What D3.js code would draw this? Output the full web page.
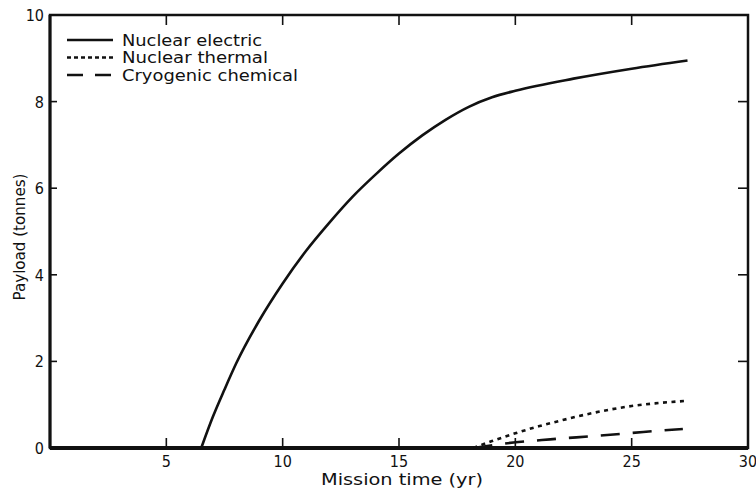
<!DOCTYPE html>
<html>
<head>
<meta charset="utf-8">
<script src="https://cdn.jsdelivr.net/npm/d3@7"></script>
<style>
  html, body { margin: 0; padding: 0; background: #fff; }
  svg text { font-family: "DejaVu Sans Condensed", "DejaVu Sans", sans-serif; fill: #111; }
  svg text.wide { font-family: "DejaVu Sans", sans-serif; }
</style>
</head>
<body>
<svg id="chart" width="756" height="496"></svg>
<script>
// ---- data ----
const seriesNames = ["Nuclear electric", "Nuclear thermal", "Cryogenic chemical"];
const electricX = [6.5, 7.0, 7.5, 8.0, 9.0, 10.0, 11.0, 12.0, 13.0, 14.0, 15.0, 16.0, 17.0, 18.0, 19.0, 20.0, 22.5, 25.0, 27.4];
const electricY = [0, 0.72, 1.35, 1.95, 2.95, 3.8, 4.55, 5.2, 5.8, 6.32, 6.8, 7.22, 7.58, 7.88, 8.1, 8.25, 8.53, 8.76, 8.95];
const thermalX = [18.2, 19.0, 20.0, 21.0, 22.0, 23.0, 24.0, 25.0, 26.0, 27.4];
const thermalY = [0, 0.16, 0.34, 0.5, 0.64, 0.77, 0.88, 0.97, 1.03, 1.09];
const cryoX = [18.2, 19.5, 21.5, 23.5, 25.5, 27.2];
const cryoY = [0, 0.1, 0.2, 0.28, 0.37, 0.44];
const xTicks = [5, 10, 15, 20, 25, 30];
const yTicks = [0, 2, 4, 6, 8, 10];
const xTitle = "Mission time (yr)";
const yTitle = "Payload (tonnes)";

const svg = d3.select("#chart");
const L = 50, R = 748, T = 15, B = 448;
const x = d3.scaleLinear().domain([0, 30]).range([L, R]);
const y = d3.scaleLinear().domain([0, 10]).range([B, T]);

// inward ticks on all four sides
const tickLen = 10;
const inner = yTicks.filter(d => d > 0 && d < 10);
const innerX = xTicks.filter(d => d < 30);
const tg = svg.append("g").attr("stroke", "#111").attr("stroke-width", 1.6);
innerX.forEach(d => {
  tg.append("line").attr("x1", x(d)).attr("x2", x(d)).attr("y1", B).attr("y2", B - tickLen);
  tg.append("line").attr("x1", x(d)).attr("x2", x(d)).attr("y1", T).attr("y2", T + tickLen);
});
inner.forEach(d => {
  tg.append("line").attr("x1", L).attr("x2", L + 7).attr("y1", y(d)).attr("y2", y(d));
  tg.append("line").attr("x1", R).attr("x2", R - tickLen).attr("y1", y(d)).attr("y2", y(d));
});

// frame
svg.append("rect").attr("x", L).attr("y", T).attr("width", R - L).attr("height", B - T)
  .attr("fill", "none").attr("stroke", "#111").attr("stroke-width", 2.5);
svg.append("line").attr("x1", L).attr("x2", R).attr("y1", B).attr("y2", B)
  .attr("stroke", "#111").attr("stroke-width", 4);
svg.append("line").attr("x1", L).attr("x2", L).attr("y1", T).attr("y2", B)
  .attr("stroke", "#111").attr("stroke-width", 3);

// tick labels
svg.append("g").selectAll("text").data(xTicks).join("text")
  .attr("x", d => x(d)).attr("y", 467).attr("text-anchor", "middle")
  .attr("font-size", 16).text(d => d);
svg.append("g").selectAll("text").data(yTicks).join("text")
  .attr("x", 44).attr("y", d => y(d) + 6).attr("text-anchor", "end")
  .attr("font-size", 16).text(d => d);

// axis titles
svg.append("text").attr("class", "wide").attr("x", 402).attr("y", 485).attr("text-anchor", "middle")
  .attr("font-size", 16).attr("textLength", 162).attr("lengthAdjust", "spacingAndGlyphs").text(xTitle);
svg.append("text").attr("class", "wide").attr("transform", "translate(25,237) rotate(-90)")
  .attr("text-anchor", "middle").attr("font-size", 15.5)
  .attr("textLength", 127).attr("lengthAdjust", "spacingAndGlyphs").text(yTitle);

// curves
const line = d3.line().x(d => x(d[0])).y(d => y(d[1])).curve(d3.curveMonotoneX);
const styles = [
  { xs: electricX, ys: electricY, dash: null, w: 2.6 },
  { xs: thermalX, ys: thermalY, dash: "4,4.5", w: 2.6 },
  { xs: cryoX, ys: cryoY, dash: "19,13", w: 2.6 }
];
styles.forEach(s => {
  svg.append("path").datum(s.xs.map((v, i) => [v, s.ys[i]]))
    .attr("d", line).attr("fill", "none").attr("stroke", "#111")
    .attr("stroke-width", s.w).attr("stroke-dasharray", s.dash);
});

// legend
const legDash = [null, "4,3", "16,12"];
const legY = [40, 57.5, 75];
const legW = [140, 146, 176];
seriesNames.forEach((name, i) => {
  svg.append("line").attr("x1", 67).attr("x2", 113).attr("y1", legY[i]).attr("y2", legY[i])
    .attr("stroke", "#111").attr("stroke-width", 2.4).attr("stroke-dasharray", legDash[i]);
  svg.append("text").attr("class", "wide").attr("x", 122).attr("y", legY[i] + 5.5).attr("font-size", 15)
    .attr("textLength", legW[i]).attr("lengthAdjust", "spacingAndGlyphs").text(name);
});
</script>
</body>
</html>
